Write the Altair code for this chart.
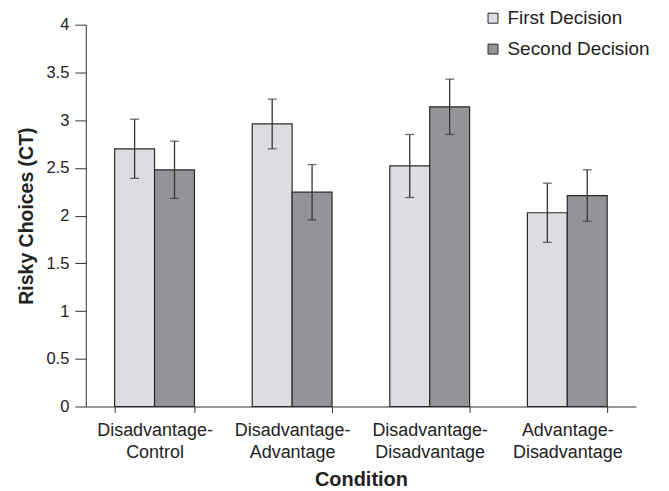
import altair as alt
import pandas as pd

conditions = ["Disadvantage-Control", "Disadvantage-Advantage",
              "Disadvantage-Disadvantage", "Advantage-Disadvantage"]
series = ["First Decision", "Second Decision"]
first_vals = [2.70, 2.96, 2.52, 2.03]
second_vals = [2.48, 2.245, 3.14, 2.21]
first_err = [0.31, 0.26, 0.33, 0.31]
second_err = [0.30, 0.29, 0.29, 0.27]

rows = []
for i, c in enumerate(conditions):
    rows.append({"Condition": c, "Decision": series[0], "value": first_vals[i], "err": first_err[i]})
    rows.append({"Condition": c, "Decision": series[1], "value": second_vals[i], "err": second_err[i]})
df = pd.DataFrame(rows)
df["lo"] = df["value"] - df["err"]
df["hi"] = df["value"] + df["err"]

FONT = "Liberation Sans"

x = alt.X("Condition:N", sort=conditions, title="Condition",
          scale=alt.Scale(paddingInner=0.42, paddingOuter=0.21),
          axis=alt.Axis(labelAngle=0, tickBand="extent",
                        labelExpr="isValid(datum.value) ? [split(datum.value,'-')[0] + '-', split(datum.value,'-')[1]] : ''",
                        labelFontSize=18, labelFont=FONT, labelColor="#222",
                        labelPadding=9, labelLineHeight=22,
                        titleFontSize=20, titleFont=FONT, titleFontWeight="bold",
                        titleColor="#222", titlePadding=8,
                        domainColor="#333", tickColor="#333", tickSize=6))
xo = alt.XOffset("Decision:N", sort=series, scale=alt.Scale(paddingInner=0, paddingOuter=0))

bars = alt.Chart(df).mark_bar(stroke="#2a2a2a", strokeWidth=1.2).encode(
    x=x, xOffset=xo,
    y=alt.Y("value:Q", title="Risky Choices (CT)",
            scale=alt.Scale(domain=[0, 4], nice=False),
            axis=alt.Axis(values=[0, 0.5, 1, 1.5, 2, 2.5, 3, 3.5, 4], format=".1~f",
                          grid=False, labelFontSize=16.5, labelFont=FONT,
                          labelColor="#222", labelPadding=6, tickSize=11,
                          domainColor="#333", tickColor="#333",
                          titleFontSize=19.5, titleFont=FONT, titleFontWeight="bold",
                          titleColor="#222", titlePadding=9)),
    color=alt.Color("Decision:N", sort=series,
                    scale=alt.Scale(domain=series, range=["#dcdde0", "#939498"]),
                    legend=alt.Legend(title=None, orient="none", legendX=399, legendY=-16,
                                      padding=0, symbolType="square", symbolSize=100,
                                      symbolStrokeColor="#2a2a2a", symbolStrokeWidth=1,
                                      labelFontSize=19, labelFont=FONT, labelColor="#222",
                                      rowPadding=11, labelOffset=5)),
)

rules = alt.Chart(df).mark_rule(color="#333", strokeWidth=1.3).encode(
    x=x, xOffset=xo, y="lo:Q", y2="hi:Q")
caps_hi = alt.Chart(df).mark_tick(color="#333", thickness=1.3, size=9).encode(
    x=x, xOffset=xo, y="hi:Q")
caps_lo = alt.Chart(df).mark_tick(color="#333", thickness=1.3, size=9).encode(
    x=x, xOffset=xo, y="lo:Q")

chart = alt.layer(bars, rules, caps_hi, caps_lo).properties(
    width=552, height=383,
    autosize=alt.AutoSizeParams(type="none"),
    padding={"left": 78, "top": 16, "right": 25, "bottom": 84},
).configure_view(stroke=None)

chart.save("out.html", embed_options={"renderer": "svg", "actions": False})
